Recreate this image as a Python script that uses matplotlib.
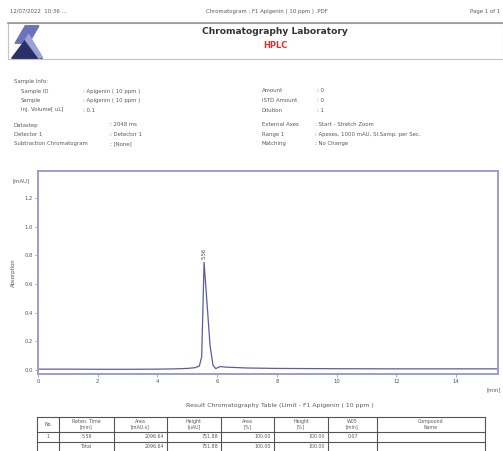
import matplotlib
matplotlib.use("Agg")
import matplotlib.pyplot as plt
from matplotlib.patches import Polygon, Rectangle
from matplotlib.lines import Line2D

W, H = 503, 451

# chromatogram trace: retention time [min] vs absorbance [mAU]
time_min = [0.0, 1.0, 2.0, 3.0, 4.0, 4.6, 5.0, 5.25, 5.4, 5.48, 5.56, 5.66,
            5.76, 5.86, 5.95, 6.1, 6.3, 7.0, 8.0, 10.0, 12.0, 14.0, 15.4]
absorbance = [0.004, 0.004, 0.003, 0.003, 0.004, 0.006, 0.009, 0.014, 0.025, 0.09,
              0.752, 0.46, 0.17, 0.03, 0.008, 0.022, 0.018, 0.012, 0.009, 0.007,
              0.006, 0.006, 0.006]

x_ticks = [0, 2, 4, 6, 8, 10, 12, 14]
y_ticks = [0.0, 0.2, 0.4, 0.6, 0.8, 1.0, 1.2]

# peak result table
col_headers = ["No.", "Reten. Time\n[min]", "Area\n[mAU.s]", "Height\n[uAU]", "Area\n[%]",
               "Height\n[%]", "W05\n[min]", "Compound\nName"]
row_peak = ["1", "5.56", "2096.64", "751.88", "100.00", "100.00", "0.07", ""]
row_total = ["", "Total", "2096.64", "751.88", "100.00", "100.00", "", ""]
col_edges = [37, 59, 114, 167, 221, 274, 328, 377, 485]
row_edges = [417, 432, 442, 451]

sample_left = [("Sample ID", ": Apigenin ( 10 ppm )"),
               ("Sample", ": Apigenin ( 10 ppm )"),
               ("Inj. Volume[ uL]", ": 0.1")]
sample_right = [("Amount", ": 0"), ("ISTD Amount", ": 0"), ("Dilution", ": 1")]
method_left = [("Datastep", ": 2048 ms"), ("Detector 1", ": Detector 1"),
               ("Subtraction Chromatogram", ": [None]")]
method_right = [("External Axes", ": Start - Stretch Zoom"),
                ("Range 1", ": Apexes, 1000 mAU, Sl.Samp. per Sec."),
                ("Matching", ": No Change")]

fig = plt.figure(figsize=(W / 100, H / 100), dpi=100)
fig.patch.set_facecolor("white")


def fx(x):
    return x / W


def fy(y):
    return 1 - y / H


def txt(x, y, s, **kw):
    kw.setdefault("fontsize", 3.9)
    kw.setdefault("color", "#5a5a5a")
    kw.setdefault("va", "center")
    fig.text(fx(x), fy(y), s, **kw)


# page header
txt(10, 11, "12/07/2022  10:36 ...")
txt(267, 11, "Chromatogram : F1 Apigenin ( 10 ppm ) .PDF", ha="center")
txt(500, 11, "Page 1 of 1", ha="right")
fig.add_artist(Line2D([fx(8), fx(503)], [fy(23), fy(23)], color="#999999", lw=1.2))
fig.add_artist(Rectangle((fx(8), fy(59)), fx(495), 36 / H, fill=False,
                         edgecolor="#c4c4c4", lw=0.8))
txt(275, 32, "Chromatography Laboratory", fontsize=6.6, weight="bold", ha="center",
    color="#333333")
txt(275, 45, "HPLC", fontsize=6.0, weight="bold", ha="center", color="#e03030")

# logo
logo = fig.add_axes([fx(10), fy(59), fx(34), 35 / H])
logo.set_xlim(0, 1)
logo.set_ylim(0, 1)
logo.axis("off")
logo.add_patch(Polygon([[0.15, 0.45], [0.45, 0.95], [0.85, 0.95], [0.55, 0.45]],
                       color="#6a74b8"))
logo.add_patch(Polygon([[0.05, 0.02], [0.5, 0.6], [0.95, 0.02]], color="#2a2f6a"))
logo.add_patch(Polygon([[0.45, 0.55], [0.55, 0.7], [0.95, 0.05], [0.85, 0.02]],
                       color="#9aa2d8"))

# sample / method info
txt(14, 81, "Sample Info:")
for i, (k, v) in enumerate(sample_left):
    txt(21, 91 + i * 9.5, k)
    txt(83, 91 + i * 9.5, v)
for i, (k, v) in enumerate(sample_right):
    txt(262, 91 + i * 9.5, k)
    txt(317, 91 + i * 9.5, v)
for i, (k, v) in enumerate(method_left):
    txt(14, 125 + i * 9.5, k)
    txt(110, 125 + i * 9.5, v)
for i, (k, v) in enumerate(method_right):
    txt(262, 125 + i * 9.5, k)
    txt(315, 125 + i * 9.5, v)

# chromatogram
ax = fig.add_axes([fx(38), fy(374), fx(460), 203 / H])
ax.plot(time_min, absorbance, color="#5a5ab0", lw=0.9)
ax.set_xlim(0, 15.4)
ax.set_ylim(-0.03, 1.39)
ax.set_xticks(x_ticks)
ax.set_xticklabels([str(t) for t in x_ticks])
ax.set_yticks(y_ticks)
ax.set_yticklabels([f"{t:.1f}" for t in y_ticks])
ax.tick_params(labelsize=3.8, length=2, width=0.5, colors="#888888",
               labelcolor="#555555", pad=1.5)
for sp in ax.spines.values():
    sp.set_color("#9c9cd4")
    sp.set_linewidth(1.4)
ax.set_ylabel("Absorption", fontsize=3.8, color="#555555", labelpad=6)
peak_i = absorbance.index(max(absorbance))
ax.text(time_min[peak_i], absorbance[peak_i] + 0.02, f"{time_min[peak_i]:.2f}",
        rotation=90, fontsize=3.6, ha="center", va="bottom", color="#444444")
txt(30, 181, "[mAU]", ha="right")
txt(494, 390, "[min]", ha="center")

# result table
txt(280, 405, "Result Chromatography Table (Limit - F1 Apigenin ( 10 ppm )", ha="center",
    fontsize=4.4)
for x in col_edges:
    fig.add_artist(Line2D([fx(x), fx(x)], [fy(row_edges[0]), fy(row_edges[-1])],
                          color="#555555", lw=0.8))
for y in row_edges[:-1]:
    fig.add_artist(Line2D([fx(col_edges[0]), fx(col_edges[-1])], [fy(y), fy(y)],
                          color="#555555", lw=0.8))
for j, h in enumerate(col_headers):
    cx = (col_edges[j] + col_edges[j + 1]) / 2
    txt(cx, 424.5, h, ha="center", fontsize=3.4, linespacing=1.1)
for r, row in enumerate([row_peak, row_total]):
    cy = (row_edges[r + 1] + row_edges[r + 2]) / 2
    for j, v in enumerate(row):
        if j < 2 or j == 6:
            txt((col_edges[j] + col_edges[j + 1]) / 2, cy, v, ha="center", fontsize=3.4)
        else:
            txt(col_edges[j + 1] - 3, cy, v, ha="right", fontsize=3.4)

fig.savefig("out.png", dpi=100)
